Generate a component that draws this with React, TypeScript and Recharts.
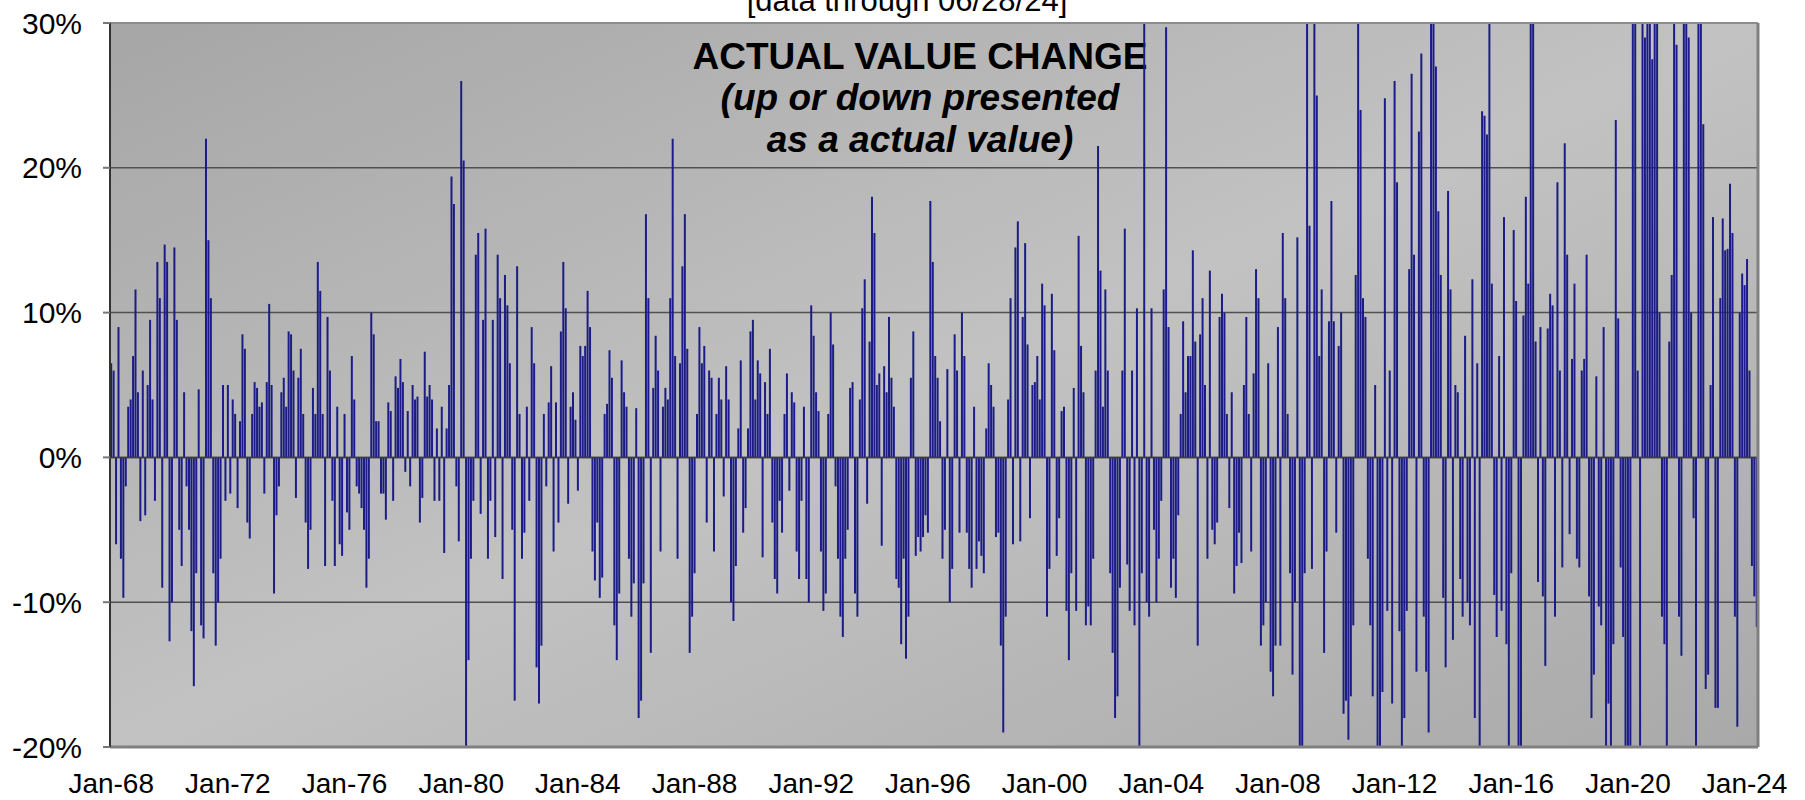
import React from "react"
import { BarChart, Bar, XAxis, YAxis, CartesianGrid, ReferenceLine } from "recharts"

const monthNames = ["Jan", "Feb", "Mar", "Apr", "May", "Jun", "Jul", "Aug", "Sep", "Oct", "Nov", "Dec"]
const startYear = 1968

// monthly change in % (bars past the axis limits are clipped)
const vals1968 = [
  6.5, 6, -6, 9, -7, -9.7, -2, 3.5, 4, 7, 11.6, 4.5, -4.4, 6, -4, 5, 9.5, 4, -3, 13.5,
  11, -9, 14.7, 13.5, -12.7, -10, 14.5, 9.5, -5, -7.5, 4.5, -2, -5, -12, -15.8, -8, 4.7, -11.6, -12.5, 22,
  15, 11, -8, -13, -10, -7, 5, -3, 5, -2.5, 4, 3, -3.5, 2.5, 8.5, 7.5, -4.5, -5.6, 3, 5.2,
  4.8, 3.5, 3.8, -2.5, 5.2, 10.6, 5, -9.4, -4, -2, 4.5, 5.5, 3.5, 8.7, 8.5, 6, -2.8, 5.5, 7.5, 3,
  -4.5, -7.7, -5, 4.8, 3, 13.5, 11.5, 3, -7.5, 9.7, 6, -3, -7.5, 3.5, -6, -6.8, 3, -3.8, -5, 7,
  4, -2, -2.5, -3.5, -5, -9, -7, 10, 8.5, 2.5, 2.5, -2.5,
]
const vals1977 = [
  -2.5, -4.3, 3.8, 3.2, -3, 5.6, 4.8, 6.8, 5.2, -1, 3.2, -2, 5, 4, 4.2, -4.5, -2.8, 7.3, 4.2, 5,
  4, -3, 2, -3, 3.5, -6.6, 2, 5, 19.4, 17.5, -2, -5.8, 26, 20.5, -24, -14, -7, -3, 14, 15.5,
  -3.9, 9.5, 15.8, -7, -3, 9.5, -5.5, 14, 11, -8.4, 12.6, 10.5, 6.5, -5, -16.8, 13.2, 3, -7, -5.2, 3.5,
  -3, 9, 6.5, -14.5, -17, -13, 3, -2, 3.8, 6.3, -6.5, 3.8, -4.5, 8.7, 13.5, 10.3, -3.2, 3.5, 4.5, 2.6,
  -2.3, 7.7, 7, 7.7, 11.5, 9, -6.5, -8.5, -4.5, -9.7, -8.3, 3, 3.7, 7.4, 5.5, -11.6, -14, -9.4, 6.7, 4.5,
  3.5, -7, -11, -8.7, 3.4, -18, -16.8, -8.7, 16.8, 11, -13.5, 4.8, 8.4, 6, -6.5,
]
const vals1986 = [
  3.5, 4.8, 4, 11, 22, 7, -7, 6.5, 13.2, 16.8, 7.5, -13.5, -11, -8, 3, 9, 6.5, 7.7, -4.5, 6,
  5.5, -6.5, 3, 5.5, 4, -2.7, 6.3, 4, -10, -11.3, -7.5, 2, 6.7, -5.2, -3.5, 2, 8.7, 9.5, 4, 6.7,
  5.8, -6.9, 5.2, 3, 7.5, -4.5, -8.4, -9.4, -3, -5.2, 3, 5.8, -2.3, 4.5, 3.8, -6.5, -8.4, -3, 3.5, -8.4,
  -10, 10.5, 8.4, 4.5, 3.2, -6.5, -10.6, -9.4, 3, 10, 7.8, -2, -7, -11, -12.4, -7, -5, 4.8, 5.2, -9.4,
  -11, 4, 10.3, 12.3, -3.2, 8, 18, 15.5, 5, 5.8, -6.1, 6.3, 4.5, 9.7, 5.5, 3.5, -8.4, -9, -12.9, -7,
  -13.9, -11, 5.5, 8.7, -6.8, -5.5, -6.5, -5.5, -4, -5.2, 17.7, 13.5,
]
const vals1996 = [
  7, 5.5, 2.5, -7, -5, 6.1, -10, -7.7, 8.5, 6, -5.2, 10, 7, -5.2, -7.7, -9, 3.5, -7.7, -5.8, -6.8,
  -8, 2, 6.5, 5, 3.5, -5.5, -5.2, -13, -19, -11, 4, 11, -6, 14.5, 16.3, -5.8, 9.7, 14.8, 7.8, -4.2,
  5, 5.2, 7, 4, 12, 10.5, -11, -7.7, 11.3, 7.4, -6.8, -4.2, 3.2, 3.5, -10.6, -14, -8, 4.8, -10.6, 15.3,
  7.7, 4.5, -11.6, -10.3, -11.6, -7, 6, 21.5, 12.9, 3.5, 11.6, 6, -8, -13.5, -18, -16.5, -9, 6, 15.8, -7.4,
  -10.6, 6, -11.6, 10.3, -24, -8, 34, -10, -11, 10.3, -5, -10, -7, -3, 11.6, 29.7, 9, -9, -7, -9.7,
  -4, 3, 9.4, 4.5, 7, 7, 14.3, 8, -13, 8.5, 11, 5, -7, 12.9,
]
const vals2005 = [
  -5, -6, -4.5, 9.7, 11.3, 10, 3, -3.5, 4.5, -9.4, -7.5, -5.2, -7.3, 5, 9.7, 3, -6.5, 5.8, 13, 11,
  -13, -11.6, -10, 6.5, -14.8, -16.5, -13, 9, -13, 15.5, 11, 3, -8, -15, -10, 15.2, -24, -24, -8, 34,
  16, -7.7, 34, 25, 7, 11.6, -13.5, -6.5, 9.4, 17.7, 9.4, -5.2, 7.7, 10, -17.7, -16.8, -19.5, -16.5, -11.6, 12.6,
  34, 24, 11, 9.7, -7, -11.6, -16.5, 5, -24, -24, -16.2, 24.8, -10.6, 6, -17, 26, 19, -12, -24, -18,
  -10.6, 13, 26.5, 14, -14.8, 22.5, 27.9, -11, -14.8, -19, 34, 34, 27, 17, 12.6, -9.7, -14.5, 18.4, 11.6, -12.6,
  5, 4.5, -8.4, -11, 8.4, -10, -11.6, 12.3, -18, 6.5, -24, 23.9,
]
const vals2015 = [
  23.6, 22.3, 34, 12, -9.5, -12.4, 7, -10.6, 16.6, -12.9, -24, -8, 15.7, 10.8, -24, -24, 9.8, 18, 12, 34,
  34, 8, -8.6, 9, -9.6, -14.4, 8.9, 11.3, 10.5, -11, 19, 6, -7.6, 21.7, 14, -5.3, 6.8, 12, -7, -7.6,
  6, 6.8, 14, -9.6, -18, -15, 5.6, -10.3, -11.6, 9, -24, -17, -24, -12.9, 23.3, 9.6, -7.6, -12.4, -24, -24,
  -24, 34, 34, 6, -24, 34, 29, 34, 34, 27.5, 34, 34, 10, -11, -12.9, -24, 8, 12.6, 34, 28.5,
  -11, -13.7, 34, 34, 29, 10, -4.2, -24, 34, 34, 23, -16, -15, 5, 16.6, -17.3, -17.3, 11, 16.5, 14.3,
  14.4, 18.9, 15.5, -11, -18.6, 10, 12.7, 11.9, 13.7, 6, -7.5, -9.6, -11.7,
]

const yTicks = [-20, -10, 0, 10, 20, 30]

const values = [...vals1968, ...vals1977, ...vals1986, ...vals1996, ...vals2005, ...vals2015]

const data = values.map((v, i) => ({
  m: `${monthNames[i % 12]}-${String((startYear + Math.floor(i / 12)) % 100).padStart(2, "0")}`,
  v,
}))

const font = "'Liberation Sans', Arial, sans-serif"

export default function App() {
  return (
    <div style={{ position: "absolute", left: 0, top: 0, width: 1805, height: 800, background: "#fff" }}>
      <BarChart
        width={1805}
        height={800}
        data={data}
        margin={{ top: 23, right: 0, bottom: 0, left: 0 }}
        barCategoryGap="8%"
      >
        <defs>
          <linearGradient id="plotBg" x1="0" y1="0" x2="1" y2="1">
            <stop offset="0%" stopColor="#a6a6a6" />
            <stop offset="50%" stopColor="#c2c2c2" />
            <stop offset="100%" stopColor="#a9a9a9" />
          </linearGradient>
        </defs>
        <CartesianGrid vertical={false} fill="url(#plotBg)" stroke="#505050" strokeWidth={1.5} />
        <XAxis
          dataKey="m"
          interval={47}
          height={53}
          tickSize={0}
          tickMargin={26}
          tickLine={false}
          axisLine={{ stroke: "#808080", strokeWidth: 3 }}
          tick={{ fill: "#000", fontSize: 28, fontFamily: font }}
        />
        <YAxis
          domain={[-20, 30]}
          ticks={yTicks}
          allowDataOverflow
          width={110}
          tickSize={7}
          tickMargin={21}
          tickFormatter={(v) => `${v}%`}
          axisLine={{ stroke: "#333", strokeWidth: 2 }}
          tickLine={{ stroke: "#777", strokeWidth: 2 }}
          tick={{ fill: "#000", fontSize: 30, fontFamily: font }}
        />
        <YAxis
          yAxisId="right"
          orientation="right"
          domain={[-20, 30]}
          width={47}
          tick={false}
          tickLine={false}
          axisLine={{ stroke: "#808080", strokeWidth: 3 }}
        />
        <text x={907} y={11} textAnchor="middle" fontFamily={font} fontSize={31} fill="#000">
          [data through 06/28/24]
        </text>
        <text x={920} y={69} textAnchor="middle" fontFamily={font} fontSize={37} fontWeight="bold" fill="#000">
          ACTUAL VALUE CHANGE
        </text>
        <text x={920} y={110} textAnchor="middle" fontFamily={font} fontSize={37} fontWeight="bold" fontStyle="italic" fill="#000">
          (up or down presented
        </text>
        <text x={920} y={152} textAnchor="middle" fontFamily={font} fontSize={37} fontWeight="bold" fontStyle="italic" fill="#000">
          as a actual value)
        </text>
        <Bar dataKey="v" fill="#1c1c88" isAnimationActive={false} />
        <ReferenceLine y={0} stroke="#3c3c3c" strokeWidth={1.5} />
        <ReferenceLine y={30} stroke="#8c8c8c" strokeWidth={2} />
      </BarChart>
    </div>
  )
}
